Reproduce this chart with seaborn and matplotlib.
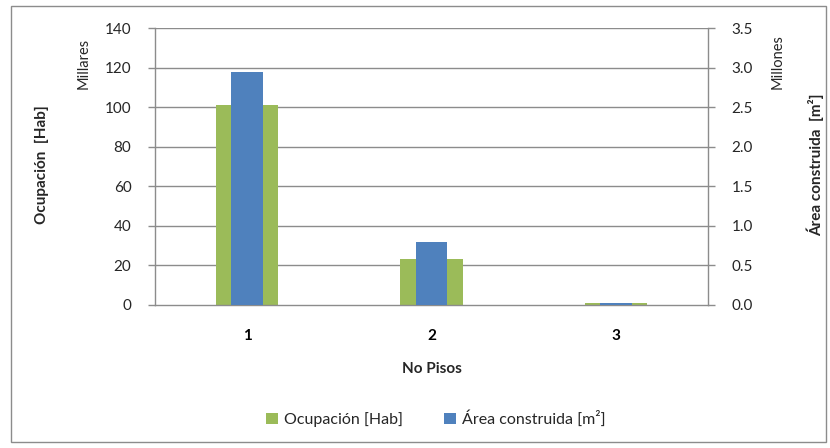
import matplotlib
matplotlib.use("Agg")
import matplotlib.pyplot as plt
from matplotlib.patches import Rectangle, Patch
import seaborn as sns
import pandas as pd

# Data: number of floors, occupancy (thousands) and built area (millions m²)
pisos = ["1", "2", "3"]
ocupacion_miles = [101, 23, 0.8]
area_millones = [2.94, 0.80, 0.03]

sns.set_theme(style="white")
plt.rcParams["font.family"] = ["Lato", "DejaVu Sans"]

GREEN = "#9BBB59"
BLUE = "#4F81BD"
GRID = "#8C8C8C"
TEXT = "#000000"

df = pd.DataFrame({"pisos": pisos, "ocupacion": ocupacion_miles, "area": area_millones})

fig = plt.figure(figsize=(8.30, 4.48), dpi=100)
ax = fig.add_axes([155 / 830, 1 - 305 / 448, (708 - 155) / 830, (305 - 28) / 448])
ax2 = ax.twinx()

sns.barplot(data=df, x="pisos", y="ocupacion", ax=ax, color=GREEN, width=0.337,
            saturation=1, linewidth=0, zorder=2)
sns.barplot(data=df, x="pisos", y="area", ax=ax2, color=BLUE, width=0.17,
            saturation=1, linewidth=0, zorder=3)

ax.set_ylim(0, 140)
ax.set_yticks(range(0, 141, 20))
ax2.set_ylim(0, 3.5)
ax2.set_yticks([i * 0.5 for i in range(8)])
ax2.set_yticklabels([f"{i * 0.5:.1f}" for i in range(8)])
ax.set_xlim(-0.5, 2.5)

# Gridlines along the primary axis
for v in range(20, 141, 20):
    ax.axhline(v, color=GRID, lw=1.0, zorder=1)

for a in (ax, ax2):
    a.spines["top"].set_visible(False)
    for s in ("left", "right", "bottom"):
        a.spines[s].set_color(GRID)
        a.spines[s].set_linewidth(1.0)
ax2.spines["left"].set_visible(False)
ax2.spines["bottom"].set_visible(False)
ax.spines["right"].set_visible(False)

# Category ticks between groups, labels centered on groups
ax.set_xticks([0, 1, 2])
ax.set_xticklabels(pisos, fontweight="bold", fontsize=11)
ax.set_xticks([-0.5, 0.5, 1.5, 2.5], minor=True)
ax.tick_params(axis="x", which="major", length=0, pad=17, colors=TEXT)
ax.tick_params(axis="x", which="minor", length=5, width=1, color=GRID, direction="out")
ax.tick_params(axis="y", length=5, width=1, color=GRID, direction="out",
               labelsize=11, pad=12, left=True)
ax2.tick_params(axis="y", length=5, width=1, color=GRID, direction="out",
                labelsize=11, pad=12, right=True)

ax.set_xlabel("No Pisos", fontweight="bold", fontsize=11, labelpad=14)
ax.set_ylabel("")
ax2.set_ylabel("")

fig.text(42 / 830, 1 - 165 / 448, "Ocupación  [Hab]", rotation=90, fontweight="bold",
         fontsize=11, ha="center", va="center")
fig.text(84 / 830, 1 - 63 / 448, "Millares", rotation=90, fontsize=10.5,
         ha="center", va="center")
fig.text(778 / 830, 1 - 62 / 448, "Millones", rotation=90, fontsize=10.5,
         ha="center", va="center")
fig.text(815 / 830, 1 - 165 / 448, "Área construida  [m²]", rotation=90,
         fontweight="bold", fontsize=11, ha="center", va="center")

handles = [Patch(facecolor=GREEN, edgecolor="none", label="Ocupación [Hab]"),
           Patch(facecolor=BLUE, edgecolor="none", label="Área construida [m²]")]
fig.legend(handles=handles, loc="center", bbox_to_anchor=(436 / 830, 1 - 419 / 448),
           ncol=2, frameon=False, fontsize=11.5, handlelength=0.7, handleheight=0.7,
           handletextpad=0.4, columnspacing=2.6)

# Outer chart frame
fig.patches.append(Rectangle((11 / 830, 1 - 442 / 448), (826 - 11) / 830, (442 - 6) / 448,
                             transform=fig.transFigure, fill=False, edgecolor=GRID,
                             lw=1.0, zorder=0))

fig.savefig("out.png", dpi=100)
